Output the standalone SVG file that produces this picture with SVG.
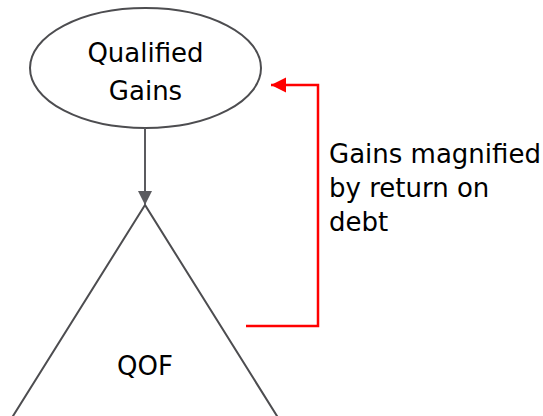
<svg xmlns="http://www.w3.org/2000/svg" width="543" height="416" viewBox="0 0 543 416">
  <style>
    .shape { fill: #ffffff; stroke: #4d4d50; stroke-width: 2; }
    .label { font-family: "DejaVu Sans", "Liberation Sans", sans-serif; font-size: 26px; fill: #000000; }
    .mid { text-anchor: middle; }
    .flow { fill: none; stroke: #5b5b5f; stroke-width: 2; }
    .loop { fill: none; stroke: #ff0000; stroke-width: 2.5; }
  </style>
  <defs>
    <marker id="grayHead" markerWidth="14" markerHeight="16" refX="14" refY="8" orient="auto" markerUnits="userSpaceOnUse">
      <path d="M0,1 L14,8 L0,15 Z" fill="#5b5b5f"/>
    </marker>
    <marker id="redHead" markerWidth="16" markerHeight="16" refX="15" refY="8" orient="auto" markerUnits="userSpaceOnUse">
      <path d="M0,0.5 L15,8 L0,15.5 Z" fill="#ff0000"/>
    </marker>
  </defs>

  <g id="node-qualified-gains">
    <ellipse class="shape" cx="145.5" cy="68" rx="115.5" ry="60"/>
    <text class="label mid" x="145.5" y="62">Qualified</text>
    <text class="label mid" x="145.5" y="100">Gains</text>
  </g>

  <g id="node-qof">
    <path class="shape" d="M145,205 L-2,440 L292,440 Z"/>
    <text class="label mid" x="145" y="375">QOF</text>
  </g>

  <g id="connectors">
    <line class="flow" x1="145" y1="128" x2="145" y2="205" marker-end="url(#grayHead)"/>
    <path class="loop" d="M246,326 L318,326 L318,85 L271,85" marker-end="url(#redHead)"/>
  </g>

  <g id="note">
    <text class="label" x="329" y="163">Gains magnified</text>
    <text class="label" x="329" y="197">by return on</text>
    <text class="label" x="329" y="231">debt</text>
  </g>
</svg>
